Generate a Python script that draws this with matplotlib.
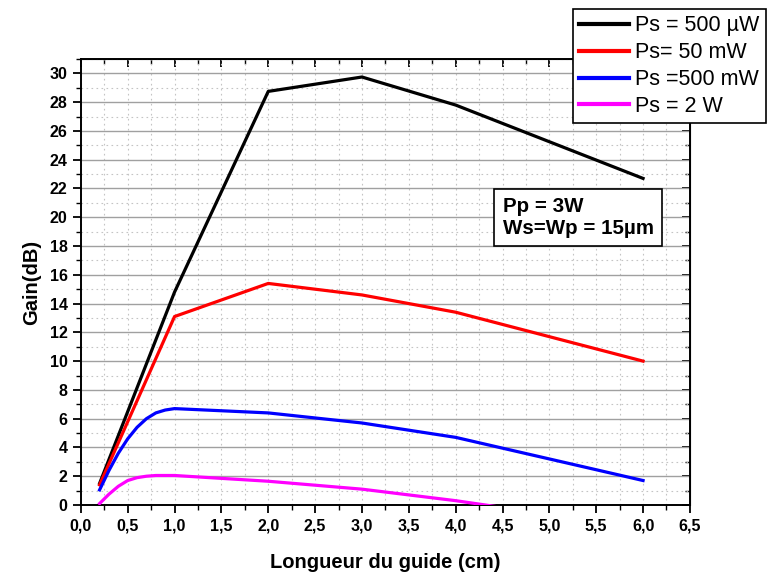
import matplotlib
matplotlib.use("Agg")
import matplotlib.pyplot as plt
from matplotlib.ticker import MultipleLocator, FuncFormatter

plt.rcParams['font.family'] = ['Liberation Sans', 'DejaVu Sans']

# data
x_black = [0.2, 1.0, 2.0, 3.0, 4.0, 6.0]
g_black = [1.5, 14.8, 28.75, 29.75, 27.8, 22.7]

x_red = [0.2, 1.0, 2.0, 3.0, 4.0, 6.0]
g_red = [1.4, 13.1, 15.4, 14.6, 13.4, 10.0]

x_blue = [0.2, 0.3, 0.4, 0.5, 0.6, 0.7, 0.8, 0.9, 1.0, 2.0, 3.0, 4.0, 6.0]
g_blue = [1.05, 2.4, 3.6, 4.6, 5.4, 6.0, 6.4, 6.6, 6.7, 6.4, 5.7, 4.7, 1.7]

x_mag = [0.2, 0.3, 0.4, 0.5, 0.6, 0.7, 0.8, 0.9, 1.0, 2.0, 3.0, 4.0, 6.0]
g_mag = [0.1, 0.75, 1.3, 1.7, 1.9, 2.0, 2.05, 2.05, 2.05, 1.65, 1.1, 0.3, -1.6]

labels = ["Ps = 500 \u00b5W", "Ps= 50 mW", "Ps =500 mW", "Ps = 2 W"]
colors = ["black", "red", "blue", "magenta"]

fig = plt.figure(figsize=(7.7, 5.73), dpi=100)
ax = fig.add_axes([0.105, 0.1187, 0.791, 0.7783])

series = [(x_black, g_black), (x_red, g_red), (x_blue, g_blue), (x_mag, g_mag)]
for (xs, ys), c, lab in zip(series, colors, labels):
    ax.plot(xs, ys, color=c, lw=2.3, label=lab, zorder=3)

ax.set_xlim(0, 6.5)
ax.set_ylim(0, 31)
ax.xaxis.set_major_locator(MultipleLocator(0.5))
ax.xaxis.set_minor_locator(MultipleLocator(0.25))
ax.yaxis.set_major_locator(MultipleLocator(2))
ax.yaxis.set_minor_locator(MultipleLocator(1))
ax.xaxis.set_major_formatter(FuncFormatter(lambda v, p: f"{v:.1f}".replace(".", ",")))

# grid: solid gray for major y, dotted elsewhere
ax.grid(which='major', axis='y', color='#a0a0a0', lw=1.0, ls='-', zorder=0)
ax.grid(which='minor', axis='y', color='#c4c4c4', lw=0.8, ls=(0, (1.5, 3)), zorder=0)
ax.grid(which='both', axis='x', color='#c4c4c4', lw=0.8, ls=(0, (1.5, 3)), zorder=0)

for s in ax.spines.values():
    s.set_linewidth(1.4)
ax.tick_params(which='major', direction='out', length=6, width=1.3, labelsize=11.5)
ax.tick_params(which='minor', direction='out', length=3.5, width=1.0)
for lab in ax.get_xticklabels() + ax.get_yticklabels():
    lab.set_fontweight('bold')

# mirrored inward ticks on top/right
ax_top = ax.secondary_xaxis('top')
ax_top.xaxis.set_major_locator(MultipleLocator(0.5))
ax_top.xaxis.set_minor_locator(MultipleLocator(0.25))
ax_top.tick_params(which='major', direction='in', length=6, width=1.3, labeltop=False)
ax_top.tick_params(which='minor', direction='in', length=3.5, width=1.0)
ax_right = ax.secondary_yaxis('right')
ax_right.yaxis.set_major_locator(MultipleLocator(2))
ax_right.yaxis.set_minor_locator(MultipleLocator(1))
ax_right.tick_params(which='major', direction='in', length=6, width=1.3, labelright=False)
ax_right.tick_params(which='minor', direction='in', length=3.5, width=1.0)

ax.set_xlabel("Longueur du guide (cm)", fontsize=14.5, fontweight='bold', labelpad=14)
ax.set_ylabel("Gain(dB)", fontsize=14.5, fontweight='bold', labelpad=6)

ax.text(4.5, 21.4, "Pp = 3W\nWs=Wp = 15\u00b5m",
        fontsize=14.8, fontweight='bold', linespacing=1.2, va='top', ha='left',
        bbox=dict(boxstyle='square,pad=0.4', fc='white', ec='black', lw=1.2))

leg = fig.legend(loc='upper left', bbox_to_anchor=(573 / 770, 1 - 9 / 573), fontsize=15.5,
                 frameon=True, fancybox=False, edgecolor='black', framealpha=1,
                 handlelength=2.3, borderpad=0.3, labelspacing=0.27,
                 handletextpad=0.3, borderaxespad=0)
leg.get_frame().set_linewidth(1.2)
for h in leg.legend_handles:
    h.set_linewidth(3)

fig.savefig("out.png", dpi=100)
